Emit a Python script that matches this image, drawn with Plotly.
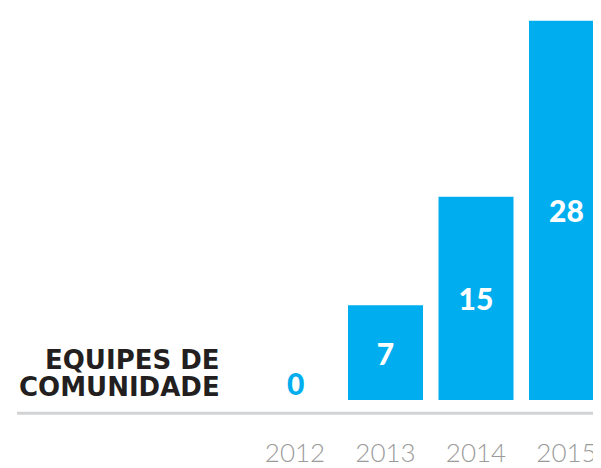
import plotly.graph_objects as go

years = ["2012", "2013", "2014", "2015"]
values = [0, 7, 15, 28]
row_label_lines = ["EQUIPES DE", "COMUNIDADE"]

BLUE = "#00AEEF"
DARK = "#231F20"
GRAY_TEXT = "#9B9B9B"
GRAY_LINE = "#D1D3D4"

text_pos = ["none" if v == 0 else "inside" for v in values]

fig = go.Figure()
fig.add_trace(go.Bar(
    x=years, y=values,
    marker=dict(color=BLUE, line=dict(width=0)),
    text=[str(v) for v in values],
    textposition=text_pos,
    insidetextanchor="middle",
    textangle=0,
    textfont=dict(family="Lato", size=30, color="white", weight=900),
    hoverinfo="skip",
))

# zero-value labels sit just above the baseline, in blue
for i, v in enumerate(values):
    if v == 0:
        fig.add_annotation(x=i, y=v, xref="x", yref="y", text=str(v),
                           showarrow=False, yanchor="middle", yshift=17,
                           font=dict(family="Lato", size=30, color=BLUE, weight=900))

for line, ypos in zip(row_label_lines, [0.101, 0.0325]):
    fig.add_annotation(x=214/593, y=ypos, xref="paper", yref="paper",
                       text=line, showarrow=False, xanchor="right", yanchor="middle",
                       align="right",
                       font=dict(family="DejaVu Sans", size=26, color=DARK, weight="bold"))

fig.add_shape(type="line", xref="paper", yref="paper",
              x0=9/593, x1=1, y0=-0.034, y1=-0.034,
              line=dict(color=GRAY_LINE, width=3))

fig.update_layout(
    width=593, height=460,
    margin=dict(l=0, r=0, t=0, b=60),
    paper_bgcolor="white", plot_bgcolor="white",
    bargap=0.171,
    showlegend=False,
    xaxis=dict(type="category", range=[-3.171, 3.381], showgrid=False, zeroline=False,
               showline=False, ticks="outside", ticklen=30, tickcolor="rgba(0,0,0,0)",
               tickfont=dict(family="Lato", size=26, color=GRAY_TEXT, weight=300)),
    yaxis=dict(range=[0, 28.94], showgrid=False, zeroline=False, showline=False,
               showticklabels=False, ticks=""),
)

fig.write_html("out.html")
